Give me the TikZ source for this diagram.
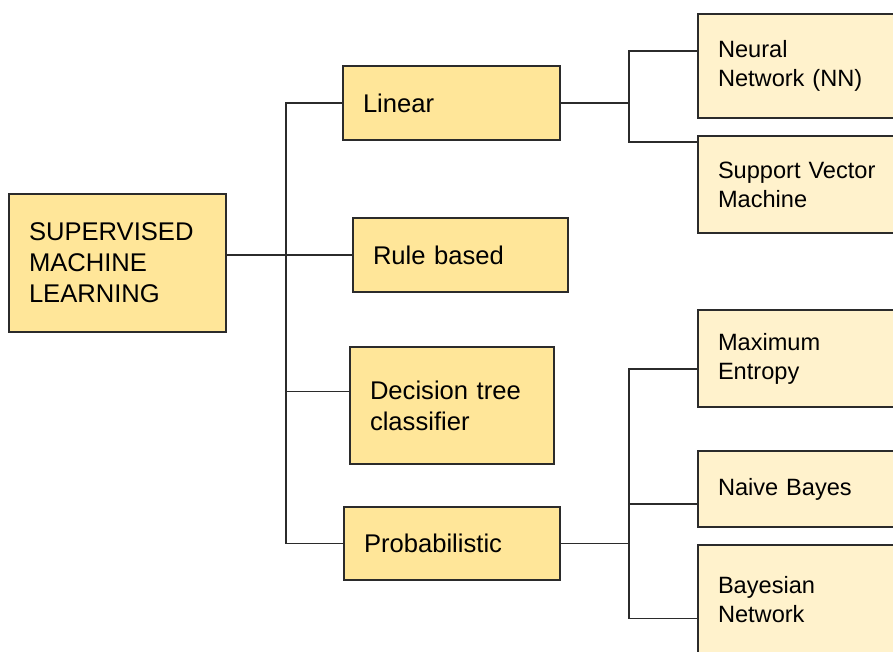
\documentclass[tikz,border=0pt]{standalone}
\usepackage{fontspec}
\setmainfont{Liberation Sans}
\definecolor{mainfill}{HTML}{FFE699}
\definecolor{subfill}{HTML}{FFF2CC}
\definecolor{edge}{HTML}{2B2B2B}
\begin{document}
\begin{tikzpicture}[x=0.75pt,y=-0.75pt,
  base/.style={draw=edge,line width=1.1pt,rectangle,inner xsep=15pt,inner ysep=0pt,align=left,anchor=center},
  mainbox/.style={base,fill=mainfill,font=\fontsize{19.2pt}{23.25pt}\selectfont},
  subbox/.style={base,fill=subfill,font=\fontsize{17.7pt}{21.75pt}\selectfont,minimum width=159pt,text width=129pt},
  link/.style={draw=edge,line width=1.15pt}]
\useasboundingbox (0,0) rectangle (893,652);
\clip (0,0) rectangle (893,652);
\fill[white] (0,0) rectangle (893,652);
\node[mainbox,minimum width=162.75pt,minimum height=103.5pt,text width=132.75pt] (sml) at (117.5,263) {SUPERVISED\\MACHINE\\LEARNING};
\node[mainbox,minimum width=162.75pt,minimum height=55.5pt,text width=132.75pt] (lin) at (451.5,103) {Linear};
\node[mainbox,minimum width=161.25pt,minimum height=55.5pt,text width=131.25pt] (rule) at (460.5,255) {Rule based};
\node[mainbox,minimum width=153pt,minimum height=87.75pt,text width=123pt] (dec) at (452,405.5) {Decision tree\\classifier};
\node[mainbox,minimum width=162pt,minimum height=54.75pt,text width=132pt] (prob) at (452,543.5) {Probabilistic};
\node[subbox,minimum height=78pt] (nn) at (804,66) {Neural\\Network (NN)};
\node[subbox,minimum height=72.75pt] (svm) at (804,184.5) {Support Vector\\Machine};
\node[subbox,minimum height=72.75pt] (me) at (804,358.5) {Maximum\\Entropy};
\node[subbox,minimum height=57pt] (nb) at (804,489) {Naive Bayes};
\node[subbox,minimum height=82.5pt] (bn) at (804,600) {Bayesian\\Network};
\coordinate (j1) at (286,0);
\coordinate (j2) at (629,0);
\coordinate (decA) at ([yshift=10.5pt]dec.west);
\coordinate (nnA) at ([yshift=-28.5pt]nn.north west);
\coordinate (svmA) at ([yshift=-5.25pt]svm.north west);
\coordinate (meA) at ([yshift=-45pt]me.north west);
\coordinate (nbA) at ([yshift=-11.25pt]nb.west);
\coordinate (bnA) at ([yshift=-55.5pt]bn.north west);
\draw[link] (rule.west) -- (rule.west -| sml.east);
\draw[link] (lin.west) -- (lin.west -| j1) -- (prob.west -| j1) -- (prob.west);
\draw[link] (decA) -- (decA -| j1);
\draw[link] (lin.east) -- (lin.east -| j2);
\draw[link] (nnA) -- (nnA -| j2) -- (svmA -| j2) -- (svmA);
\draw[link] (prob.east) -- (prob.east -| j2);
\draw[link] (meA) -- (meA -| j2) -- (bnA -| j2) -- (bnA);
\draw[link] (nbA) -- (nbA -| j2);
\end{tikzpicture}
\end{document}
